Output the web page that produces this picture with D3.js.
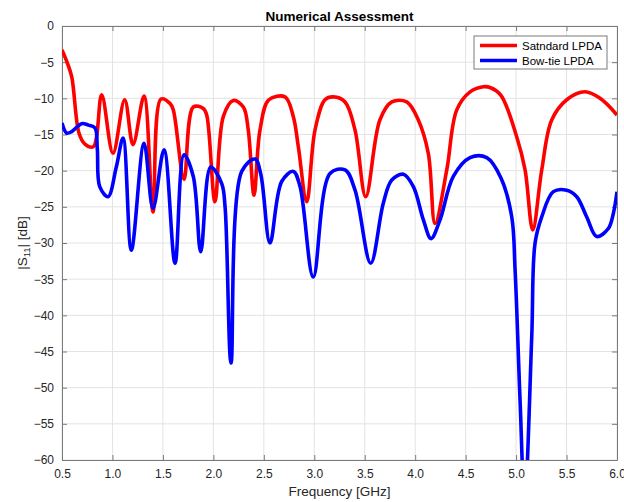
<!DOCTYPE html>
<html>
<head>
<meta charset="utf-8">
<script src="https://cdn.jsdelivr.net/npm/d3@7"></script>
<style>
  body { margin: 0; background: #fff; }
  svg { font-family: "Liberation Sans", Arial, Helvetica, sans-serif; }
</style>
</head>
<body>
<script>
// frequency [GHz] and |S11| [dB]
var redFreq = [0.5, 0.547, 0.596, 0.668, 0.725, 0.81, 0.893, 1.005, 1.121, 1.204, 1.313, 1.402,
  1.481, 1.57, 1.603, 1.709, 1.801, 1.9, 1.934, 2.016, 2.099, 2.198, 2.297, 2.346, 2.403, 2.462,
  2.55, 2.71, 2.792, 2.842, 2.925, 3.007, 3.106, 3.189, 3.305, 3.404, 3.51, 3.65, 3.768, 3.916,
  4.031, 4.13, 4.197, 4.313, 4.412, 4.544, 4.675, 4.742, 4.85, 5.006, 5.089, 5.165, 5.254, 5.353,
  5.502, 5.683, 5.832, 6.0];
var redS11 = [-3.3, -4.9, -7.0, -14.8, -16.3, -16.7, -9.5, -17.6, -10.2, -16.4, -9.7, -25.7,
  -10.1, -10.7, -11.6, -21.2, -11.2, -11.4, -12.3, -24.3, -12.5, -10.3, -11.2, -14.4, -23.4, -14.4,
  -10.2, -9.8, -12.5, -16.7, -24.3, -14.4, -10.2, -9.8, -10.5, -14.4, -23.6, -13, -10.5, -10.5,
  -13, -17.6, -27.3, -19.9, -11.6, -9.1, -8.4, -8.5, -9.6, -15.3, -19.9, -28.2, -19.9, -13,
  -10.2, -9.1, -10, -12.3];

var blueFreq = [0.5, 0.547, 0.596, 0.695, 0.761, 0.827, 0.85, 0.874, 0.956, 1.038, 1.105, 1.187,
  1.313, 1.402, 1.511, 1.62, 1.709, 1.801, 1.875, 1.974, 2.083, 2.116, 2.175, 2.281, 2.413, 2.47,
  2.561, 2.677, 2.792, 2.859, 2.99, 3.156, 3.305, 3.404, 3.559, 3.684, 3.768, 3.883, 3.982, 4.081,
  4.157, 4.246, 4.378, 4.544, 4.709, 4.85, 4.957, 4.99, 5.04, 5.085, 5.155, 5.188, 5.254, 5.369,
  5.502, 5.601, 5.7, 5.799, 5.914, 5.964, 6.0];
var blueS11 = [-13.4, -14.8, -14.6, -13.5, -13.7, -14.1, -17, -22.2, -23.6, -19.5, -15.5, -31,
  -16.2, -25.2, -17.1, -32.8, -17.8, -20.8, -31.2, -19.5, -21.8, -25, -46.6, -20.1, -18.4, -20.5,
  -30, -21.5, -20.1, -22.2, -34.7, -20.4, -19.9, -22.7, -32.8, -24.5, -21.3, -20.5, -22.2, -26.8,
  -29.4, -26.8, -20.8, -18.2, -18.2, -21, -26.4, -33.7, -52, -66, -43, -30, -26.4, -22.9,
  -22.7, -23.6, -26.4, -29.1, -28, -25.9, -22.9];

var xTicks = [0.5, 1.0, 1.5, 2.0, 2.5, 3.0, 3.5, 4.0, 4.5, 5.0, 5.5, 6.0];
var yTicks = [0, -5, -10, -15, -20, -25, -30, -35, -40, -45, -50, -55, -60];
var seriesNames = ["Satndard LPDA", "Bow-tie LPDA"];
var seriesColors = ["#ff0000", "#0000ff"];

var width = 624, height = 502;
var margin = { left: 62, right: 7, top: 26, bottom: 42 };
var plotW = width - margin.left - margin.right;
var plotH = height - margin.top - margin.bottom;

var xScale = d3.scaleLinear().domain([0.5, 6.0]).range([0, plotW]);
var yScale = d3.scaleLinear().domain([-60, 0]).range([plotH, 0]);

var svg = d3.select("body").append("svg")
    .attr("width", width)
    .attr("height", height);

svg.append("defs").append("clipPath").attr("id", "plotclip")
  .append("rect").attr("width", plotW).attr("height", plotH);

var g = svg.append("g")
    .attr("transform", "translate(" + margin.left + "," + margin.top + ")");

// grid
g.selectAll(".vgrid").data(xTicks).enter().append("line")
    .attr("x1", function(d) { return xScale(d); })
    .attr("x2", function(d) { return xScale(d); })
    .attr("y1", 0).attr("y2", plotH)
    .style("stroke", "#e3e3e3").style("stroke-width", 1);
g.selectAll(".hgrid").data(yTicks).enter().append("line")
    .attr("y1", function(d) { return yScale(d); })
    .attr("y2", function(d) { return yScale(d); })
    .attr("x1", 0).attr("x2", plotW)
    .style("stroke", "#e3e3e3").style("stroke-width", 1);

// axes with inward ticks
var xAxis = d3.axisBottom(xScale).tickValues(xTicks).tickSizeInner(-5).tickSizeOuter(0)
    .tickPadding(9).tickFormat(d3.format(".1f"));
var yAxis = d3.axisLeft(yScale).tickValues(yTicks).tickSizeInner(-5).tickSizeOuter(0)
    .tickPadding(8).tickFormat(function(d) { return d === 0 ? "0" : d3.format("d")(d); });
var xTop = d3.axisTop(xScale).tickValues(xTicks).tickSizeInner(-5).tickSizeOuter(0).tickFormat("");
var yRight = d3.axisRight(yScale).tickValues(yTicks).tickSizeInner(-5).tickSizeOuter(0).tickFormat("");

function styleAxis(sel) {
  sel.selectAll("path").style("stroke", "#7a7a7a").style("stroke-width", 1);
  sel.selectAll("line").style("stroke", "#7a7a7a").style("stroke-width", 1);
  sel.selectAll("text").style("fill", "#262626").style("font-size", "12px");
}

g.append("g").attr("transform", "translate(0," + plotH + ")").call(xAxis).call(styleAxis);
g.append("g").call(yAxis).call(styleAxis);
g.append("g").call(xTop).call(styleAxis);
g.append("g").attr("transform", "translate(" + plotW + ",0)").call(yRight).call(styleAxis);

// curves
var line = d3.line()
    .x(function(d) { return xScale(d[0]); })
    .y(function(d) { return yScale(d[1]); })
    .curve(d3.curveCatmullRom.alpha(0.5));

var redData = d3.zip(redFreq, redS11);
var blueData = d3.zip(blueFreq, blueS11);
var curves = g.append("g").attr("clip-path", "url(#plotclip)");
[redData, blueData].forEach(function(data, i) {
  curves.append("path")
      .datum(data)
      .attr("d", line)
      .style("fill", "none")
      .style("stroke", seriesColors[i])
      .style("stroke-width", 3.6)
      .style("stroke-linejoin", "round");
});

// title and labels
svg.append("text")
    .attr("x", margin.left + plotW / 2).attr("y", 21)
    .attr("text-anchor", "middle")
    .style("font-weight", "bold").style("font-size", "13.5px").style("fill", "#000")
    .text("Numerical Assessment");

svg.append("text")
    .attr("x", margin.left + plotW / 2).attr("y", 496)
    .attr("text-anchor", "middle")
    .style("font-size", "13.5px").style("fill", "#262626")
    .text("Frequency [GHz]");

var ylab = svg.append("text")
    .attr("transform", "translate(27," + (margin.top + plotH / 2) + ") rotate(-90)")
    .attr("text-anchor", "middle")
    .style("font-size", "13.5px").style("fill", "#262626");
ylab.append("tspan").text("|S");
ylab.append("tspan").attr("dy", 3).style("font-size", "9.5px").text("11");
ylab.append("tspan").attr("dy", -3).text("| [dB]");

// legend
var leg = svg.append("g").attr("transform", "translate(474,36)");
leg.append("rect").attr("width", 133).attr("height", 33)
    .style("fill", "#fff").style("stroke", "#7a7a7a").style("stroke-width", 1);
seriesNames.forEach(function(name, i) {
  var ly = 9.5 + i * 15;
  leg.append("line").attr("x1", 6).attr("x2", 43).attr("y1", ly).attr("y2", ly)
      .style("stroke", seriesColors[i]).style("stroke-width", 3.6);
  leg.append("text").attr("x", 48).attr("y", ly + 4)
      .style("font-size", "11.5px").style("fill", "#000").text(name);
});
</script>
</body>
</html>
